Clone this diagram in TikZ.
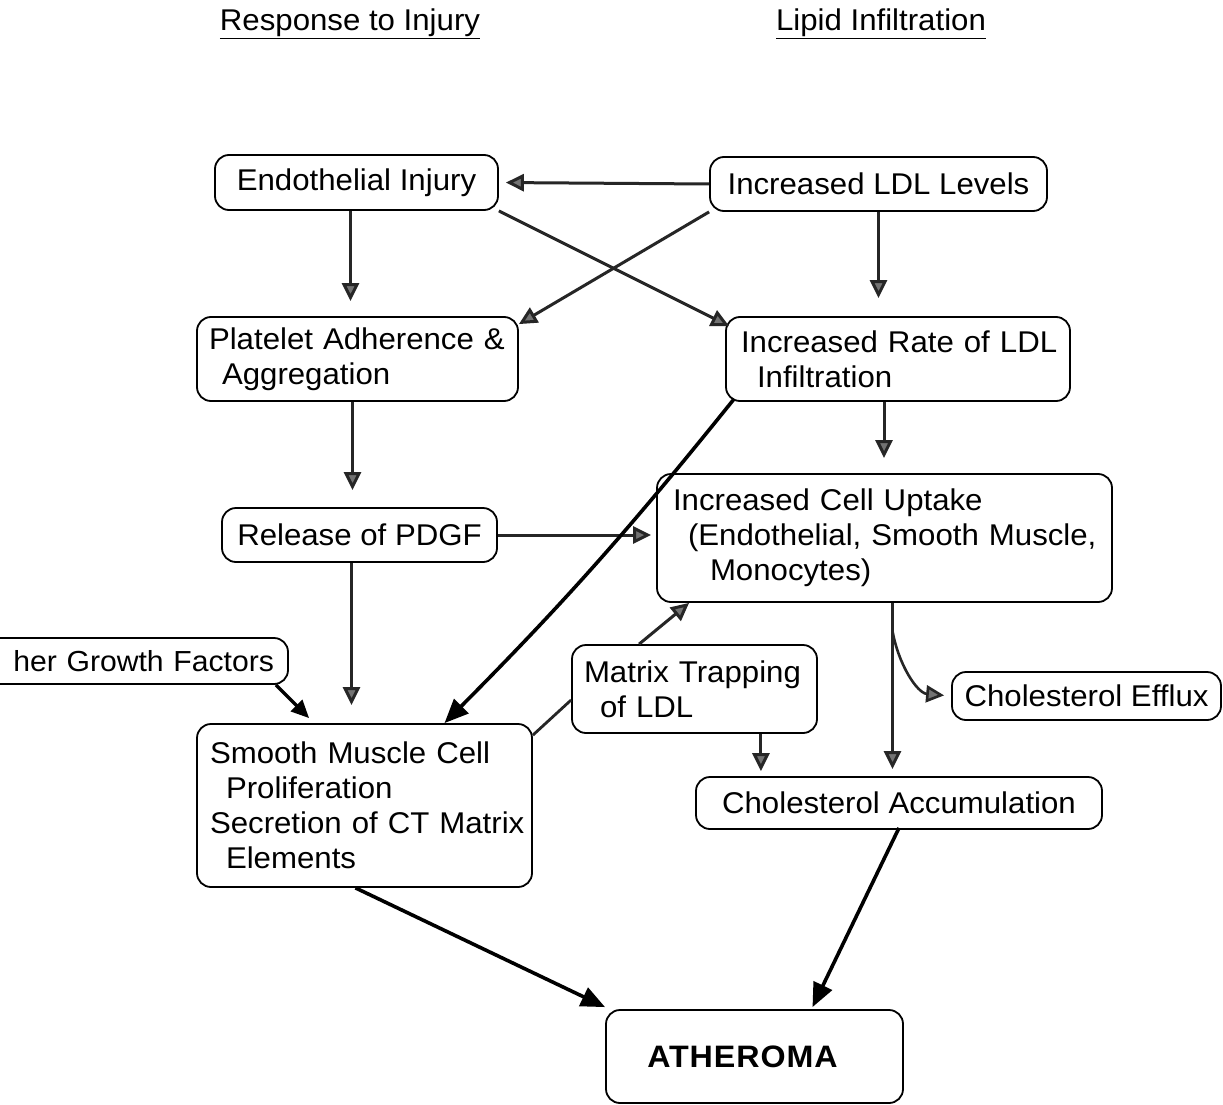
\documentclass[tikz,border=0pt]{standalone}
\usepackage{fontspec}
\setmainfont{Liberation Sans}[FakeStretch=1.04]
\usetikzlibrary{arrows.meta}
\newcommand{\bxline}[2][0pt]{\hspace*{#1}\mbox{#2}}
\begin{document}
\begin{tikzpicture}[x=1pt,y=-1pt,
  box/.style={draw, line width=1.8pt, rounded corners=14pt, font=\fontsize{30}{35}\selectfont, inner sep=0pt},
  head/.style={font=\fontsize{30}{35}\selectfont, inner sep=0pt},
  garrow/.style={draw=black!85, line width=3pt, -{Triangle[length=18pt,width=17pt,fill=black!55]}},
  barrow/.style={line width=3.6pt, -{Triangle[length=24pt,width=20pt]}},
]
\clip (0,0) rectangle (1223,1105);
\fill[white] (0,0) rectangle (1223,1105);

% headers
\node[head] (h1) at (350,24) {\underline{Response to Injury}};
\node[head] (h2) at (881,24) {\underline{Lipid Infiltration}};

% boxes
\node[box, minimum width=283pt, minimum height=55pt] (endo) at (356.5,182.5) {Endothelial Injury};
\node[box, minimum width=337pt, minimum height=54pt] (ldl) at (878.5,184) {Increased LDL Levels};
\node[box, minimum width=321pt, minimum height=84pt, text width=297pt, align=left] (plat) at (357.5,359)
  {\bxline{Platelet Adherence \&}\\\bxline[13pt]{Aggregation}};
\node[box, minimum width=344pt, minimum height=84pt, text width=314pt, align=left] (rate) at (898,359)
  {\bxline{Increased Rate of LDL}\\\bxline[16pt]{Infiltration}};
\node[box, minimum width=275pt, minimum height=54pt] (pdgf) at (359.5,535) {Release of PDGF};
\node[box, minimum width=455pt, minimum height=128pt, text width=423pt, align=left] (uptake) at (884.5,538)
  {\bxline{Increased Cell Uptake}\\\bxline[15pt]{(Endothelial, Smooth Muscle,}\\\bxline[37pt]{Monocytes)}};
\node[box, minimum width=328pt, minimum height=46pt, text width=300pt, align=right, font=\fontsize{29}{35}\selectfont] (gf) at (124,661) {\bxline{her Growth Factors}};
\node[box, minimum width=245pt, minimum height=88pt, text width=221pt, align=left] (matrix) at (694.5,689)
  {\bxline{Matrix Trapping}\\\bxline[16pt]{of LDL}};
\node[box, minimum width=269pt, minimum height=48pt] (efflux) at (1086.5,696) {Cholesterol Efflux};
\node[box, minimum width=335pt, minimum height=163pt, text width=309pt, align=left] (smooth) at (364.5,805.5)
  {\bxline{Smooth Muscle Cell}\\\bxline[16pt]{Proliferation}\\\bxline{Secretion of CT Matrix}\\\bxline[16pt]{Elements}};
\node[box, minimum width=406pt, minimum height=52pt] (accum) at (899,803) {Cholesterol Accumulation};
\node[box, minimum width=297pt, minimum height=93pt, font=\fontsize{31}{35}\selectfont\bfseries\addfontfeature{LetterSpace=3}] (ath) at (754.5,1056.5) {ATHEROMA\hspace*{24pt}};

% connectors
\draw[garrow, shorten >=7pt] (ldl.west) -- (endo.east);
\draw[garrow] (ldl.south west) -- ([yshift=-8pt]plat.north east);
\draw[garrow] (endo.south east) -- ([xshift=4pt,yshift=-10pt]rate.north west);
\draw[garrow, shorten >=15pt] ([xshift=-6pt]endo.south) -- ([xshift=-6pt]endo.south |- plat.north);
\draw[garrow, shorten >=18pt] (ldl.south) -- (ldl.south |- rate.north);
\draw[garrow, shorten >=17pt] ([xshift=-5pt]plat.south) -- ([xshift=-5pt]plat.south |- pdgf.north);
\draw[garrow, shorten >=15pt] ([xshift=-14pt]rate.south) -- ([xshift=-14pt]rate.south |- uptake.north);
\draw[garrow, shorten >=5pt] (pdgf.east) -- (pdgf.east -| uptake.west);
\draw[garrow, shorten >=18pt] ([xshift=-8pt]pdgf.south) -- ([xshift=-8pt]pdgf.south |- smooth.north);
\draw[barrow] ([xshift=9pt,yshift=3pt]rate.south west) to[bend left=3] ([xshift=80pt]smooth.north);
\draw[line width=3.2pt, -{Triangle[length=18pt,width=16pt]}] ([xshift=-13pt]gf.south east) -- ([xshift=113pt,yshift=5pt]smooth.north west);
\draw[draw=black!85, line width=2.8pt] ([yshift=-12pt]smooth.north east) -- ([yshift=-11pt]matrix.west);
\draw[garrow] ([xshift=68pt]matrix.north west) -- ([xshift=33pt]uptake.south west);
\draw[garrow, shorten >=5pt] ([xshift=-57pt]matrix.south east) -- ([xshift=-57pt]matrix.south east |- accum.north);
\draw[garrow, shorten >=7pt] ([xshift=8pt]uptake.south) -- ([xshift=8pt]uptake.south |- accum.north);
\coordinate (br) at ([xshift=8pt,yshift=-28pt]uptake.south);
\draw[garrow, line width=2.6pt, shorten >=7pt] (br) to[out=-80,in=175] (efflux.west);
\draw[barrow] ([xshift=-9pt]smooth.south) -- ([yshift=2pt]ath.north west);
\draw[barrow] ([yshift=2pt]accum.south) -- ([xshift=58pt,yshift=2pt]ath.north);
\end{tikzpicture}
\end{document}
